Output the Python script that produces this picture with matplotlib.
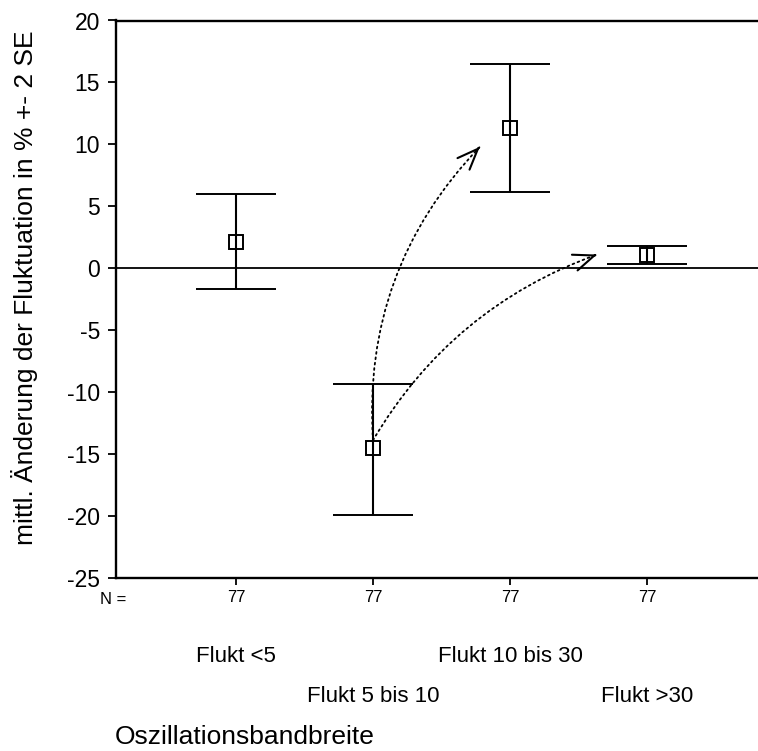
import matplotlib
matplotlib.use("Agg")
import matplotlib.pyplot as plt
import matplotlib.transforms as mtransforms
from matplotlib import font_manager
import numpy as np

# data (mean +- 2 SE, change of fluctuation in %)
categories = ["Flukt <5", "Flukt 5 bis 10", "Flukt 10 bis 30", "Flukt >30"]
n_counts = [77, 77, 77, 77]
means = [2.15, -14.5, 11.3, 1.1]
upper = [6.0, -9.35, 16.5, 1.8]
lower = [-1.65, -19.9, 6.15, 0.35]
yticks = [-25, -20, -15, -10, -5, 0, 5, 10, 15, 20]

plt.rcParams["font.family"] = ["Liberation Sans", "DejaVu Sans"]
plt.rcParams["axes.unicode_minus"] = False
installed = {f.name for f in font_manager.fontManager.ttflist}
if "Liberation Sans Narrow" in installed:
    narrow = ["Liberation Sans Narrow", "Liberation Sans"]
    cat_size, n_size = 19.5, 13
else:
    narrow = ["Liberation Sans", "DejaVu Sans"]
    cat_size, n_size = 16, 12

W, H = 758, 751
fig = plt.figure(figsize=(W / 100, H / 100), dpi=100)
ax = fig.add_axes([116 / W, (H - 577.7) / H, 1 - 116 / W, (577.7 - 20.5) / H])

x = np.arange(1, len(categories) + 1)
means = np.array(means)
yerr = [means - np.array(lower), np.array(upper) - means]

ax.axhline(0, color="black", lw=1.3, zorder=1)
ax.errorbar(x, means, yerr=yerr, fmt="s", mfc="none", mec="black", ms=10, mew=1.4,
            ecolor="black", elinewidth=1.5, capsize=29, capthick=1.5, zorder=3)

ax.set_xlim(1 - 120 / 137, 1 + 522 / 137)
ax.set_ylim(-25, 20)
ax.set_yticks(yticks)
ax.set_xticks(x)
ax.set_xticklabels([str(n) for n in n_counts], family=narrow, fontsize=n_size)
ax.tick_params(axis="y", direction="out", length=5.5, width=1.3, labelsize=16.5, pad=6)
ax.tick_params(axis="x", direction="out", length=5, width=1.3, pad=4)
ax.spines["right"].set_visible(False)
for s in ["left", "bottom", "top"]:
    ax.spines[s].set_linewidth(1.7)


def curved_arrow(start, end, rad):
    p0 = ax.transData.transform(start)
    p2 = ax.transData.transform(end)
    dx, dy = p2 - p0
    c = (p0 + p2) / 2 + rad * np.array([dy, -dx])
    ax.annotate("", xy=end, xytext=start,
                arrowprops=dict(arrowstyle="-", connectionstyle=f"arc3,rad={rad}",
                                linestyle=(0, (1, 2)), lw=1.3, color="black",
                                shrinkA=0, shrinkB=0))
    d = (p2 - c) / np.linalg.norm(p2 - c)
    back = ax.transData.inverted().transform(p2 - d * 2)
    ax.annotate("", xy=end, xytext=back,
                arrowprops=dict(arrowstyle="->,head_length=1.5,head_width=0.6",
                                lw=1.5, color="black", shrinkA=0, shrinkB=0,
                                mutation_scale=10))


start = (x[1], means[1] + 0.6)
curved_arrow(start, (x[2] - 0.22, means[2] - 1.5), -0.22)
curved_arrow(start, (x[3] - 0.365, means[3]), -0.18)

# category names on two staggered rows
trans = mtransforms.blended_transform_factory(ax.transData, fig.transFigure)
row_y = [1 - 656 / H, 1 - 697 / H]
for i, name in enumerate(categories):
    ax.text(x[i], row_y[i % 2], name, transform=trans, ha="center", va="center",
            family=narrow, fontsize=cat_size)

fig.text(113 / W, 1 - 600 / H, "N =", ha="center", va="center", family=narrow, fontsize=n_size)
fig.text(115 / W, 1.5 / H, "Oszillationsbandbreite", ha="left", va="bottom", fontsize=19)
fig.text(25 / W, 1 - 288 / H, "mittl. Änderung der Fluktuation in % +- 2 SE",
         rotation=90, ha="center", va="center", fontsize=19)

fig.savefig("out.png", dpi=100)
